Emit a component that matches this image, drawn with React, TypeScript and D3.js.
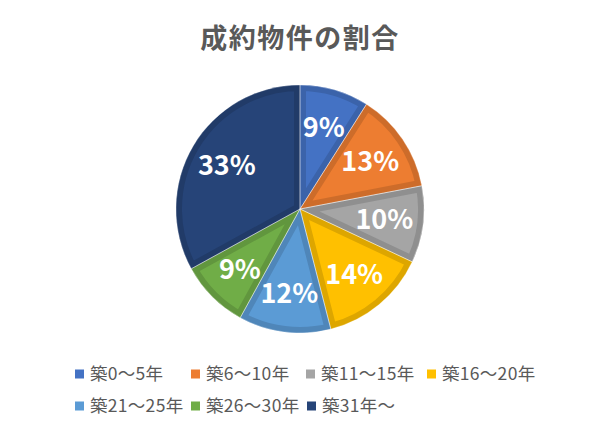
import React from 'react';
import { pie, arc, color, PieArcDatum } from 'd3';

const categories = ['築0〜5年', '築6〜10年', '築11〜15年', '築16〜20年', '築21〜25年', '築26〜30年', '築31年〜'];
const shares = [9, 13, 10, 14, 12, 9, 33];
const colors = ['#4472C4', '#ED7D31', '#A5A5A5', '#FFC000', '#5B9BD5', '#70AD47', '#264478'];
const title = '成約物件の割合';

// legend layout (row, x of marker)
const legendPos: [number, number][] = [[0, 75], [0, 191], [0, 306], [0, 427], [1, 75], [1, 191], [1, 307]];

const W = 600;
const H = 435;
const cx = 300;
const cy = 209;
const R = 124;
const font = '"Noto Sans CJK JP", "Noto Sans", sans-serif';

type Slice = { name: string; value: number; fill: string };

const App: React.FC = () => {
  const data: Slice[] = categories.map((name, i) => ({ name, value: shares[i], fill: colors[i] }));
  const slices = pie<Slice>().value(d => d.value).sort(null)(data);
  const arcGen = arc<PieArcDatum<Slice>>().innerRadius(0).outerRadius(R);
  const labelArc = arc<PieArcDatum<Slice>>().innerRadius(85).outerRadius(85);

  return (
    <svg width={W} height={H} style={{ position: 'absolute', left: 0, top: 0, background: '#fff' }} fontFamily={font}>
      <text x={W / 2} y={48} textAnchor="middle" fontSize={27} fontWeight="bold" fill="#595959" letterSpacing={1.5}>
        {title}
      </text>
      <defs>
        {slices.map((s, i) => (
          <clipPath id={`clip${i}`} key={i}>
            <path d={arcGen(s) || ''} />
          </clipPath>
        ))}
      </defs>
      <g transform={`translate(${cx},${cy})`}>
        {slices.map((s, i) => (
          <path
            key={i}
            d={arcGen(s) || ''}
            fill={s.data.fill}
            stroke={color(s.data.fill)!.darker(0.4).toString()}
            strokeWidth={12}
            clipPath={`url(#clip${i})`}
          />
        ))}
        {slices.map((s, i) => (
          <path key={'w' + i} d={arcGen(s) || ''} fill="none" stroke="#fff" strokeWidth={0.6} strokeOpacity={0.6} />
        ))}
        {slices.map((s, i) => {
          const [lx, ly] = labelArc.centroid(s);
          return (
            <text key={'t' + i} x={lx} y={ly} dy="0.36em" textAnchor="middle" fontSize={27} fontWeight="bold" fill="#fff">
              {s.data.value}%
            </text>
          );
        })}
      </g>
      <g>
        {categories.map((c, i) => {
          const [row, x] = legendPos[i];
          const y = 374 + row * 32;
          return (
            <g key={c}>
              <rect x={x} y={y - 4.5} width={9} height={9} fill={colors[i]} />
              <text x={x + 15} y={y} dy="0.36em" fontSize={17.5} letterSpacing={0.3} fill="#595959">{c}</text>
            </g>
          );
        })}
      </g>
    </svg>
  );
};

export default App;
